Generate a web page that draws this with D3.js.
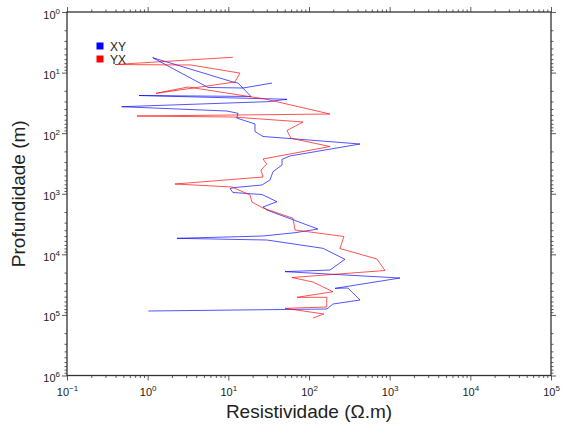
<!DOCTYPE html>
<html><head><meta charset="utf-8">
<script src="https://cdn.jsdelivr.net/npm/d3@7"></script>
<style>body{margin:0;background:#fff} text{font-family:"Liberation Sans",Arial,Helvetica,sans-serif}</style>
</head><body><svg id="c" width="561" height="435"></svg>
<script>
// XY series (resistivity Ohm.m, depth m)
const xyRes   = [34.8, 15.2, 5.60, 1.155, 11.4, 13.2, 19.1, 0.781, 53.4, 31.0, 0.477, 9.63, 13.2, 12.7, 21.4, 21.4, 26.9, 53.4, 429, 58.1, 46.3, 46.3, 35.8, 32.8, 26.1, 12.1, 10.5, 11.4, 26.1, 40.1, 26.9, 30.1, 59.8, 129, 67.1, 26.9, 2.31, 30.1, 149, 279, 182, 50.4, 1342, 210, 304, 429, 198, 167, 1.02];
const xyDepth = [14.9, 17.97, 17.6, 5.68, 14.3, 14.9, 24.8, 23.9, 27.6, 30.2, 36.6, 43.1, 47.0, 56.2, 70.6, 93.9, 113.5, 121.6, 151, 238, 270, 335, 433, 593, 717, 789, 819, 954, 1029, 1353, 1655, 1855, 2612, 3819, 4396, 4984, 5440, 5802, 7955, 12085, 18150, 19300, 24600, 36440, 35960, 56760, 66080, 79900, 86200];
// YX series
const yxRes   = [11.4, 0.394, 3.44, 13.9, 12.1, 1.27, 3.16, 28.5, 182, 0.737, 11.4, 84.2, 53.4, 59.8, 182, 26.9, 29.9, 25.4, 26.9, 2.18, 11.1, 18.6, 19.6, 26.9, 63.3, 67.1, 271, 242, 696, 875, 61.5, 112, 198, 71.0, 166, 166, 50.4, 153, 112];
const yxDepth = [5.59, 7.36, 7.50, 10.2, 14.3, 22.0, 17.3, 27.3, 48.3, 52.1, 54.1, 65.4, 90.4, 121.6, 166, 267, 323, 406, 529, 691, 774, 1049, 1369, 1719, 2543, 3967, 5079, 8016, 11950, 18490, 24130, 28640, 41400, 51230, 51230, 74060, 77840, 96630, 112500];

const seriesNames  = ["XY", "YX"];
const seriesColors = ["#0000ff", "#ff0000"];
const xTickExps = [-1, 0, 1, 2, 3, 4, 5];
const yTickExps = [0, 1, 2, 3, 4, 5, 6];
const xTitle = "Resistividade (\u03A9.m)";
const yTitle = "Profundidade (m)";

const L = 67, R = 551, T = 12, B = 375.5;
const svg = d3.select("#c");
const x = d3.scaleLog().domain([0.1, 1e5]).range([L, R]);
const y = d3.scaleLog().domain([1, 1e6]).range([T, B]);

function minors(exps) {
  const out = [];
  for (let i = 0; i < exps.length - 1; i++)
    for (let k = 2; k <= 9; k++) out.push(k * Math.pow(10, exps[i]));
  return out;
}
const xMaj = xTickExps.map(e => Math.pow(10, e));
const yMaj = yTickExps.map(e => Math.pow(10, e));
const xMin = minors(xTickExps), yMin = minors(yTickExps);

const sup = { "-": "\u2212" };
function styleAxis(g) {
  g.select(".domain").remove();
  g.selectAll(".tick line").attr("stroke", "#333").attr("stroke-width", 0.8);
}
function addAxis(gen, tr) {
  const g = svg.append("g").attr("transform", tr).call(gen);
  styleAxis(g);
  return g;
}
// minor ticks
addAxis(d3.axisBottom(x).tickValues(xMin).tickSize(2.5).tickFormat(""), `translate(0,${B})`);
addAxis(d3.axisTop(x).tickValues(xMin).tickSize(2.5).tickFormat(""), `translate(0,${T})`);
addAxis(d3.axisLeft(y).tickValues(yMin).tickSize(2.5).tickFormat(""), `translate(${L},0)`);
addAxis(d3.axisRight(y).tickValues(yMin).tickSize(2.5).tickFormat(""), `translate(${R},0)`);
// major ticks
const gxb = addAxis(d3.axisBottom(x).tickValues(xMaj).tickSize(5).tickPadding(6).tickFormat(""), `translate(0,${B})`);
addAxis(d3.axisTop(x).tickValues(xMaj).tickSize(5).tickFormat(""), `translate(0,${T})`);
const gyl = addAxis(d3.axisLeft(y).tickValues(yMaj).tickSize(5).tickPadding(6).tickFormat(""), `translate(${L},0)`);
addAxis(d3.axisRight(y).tickValues(yMaj).tickSize(5).tickFormat(""), `translate(${R},0)`);

function powLabel(sel, exps) {
  sel.selectAll(".tick text").each(function(d, i) {
    const t = d3.select(this).text(null).attr("fill", "#222").attr("font-size", 11);
    t.append("tspan").text("10");
    t.append("tspan").attr("dy", -5).attr("font-size", 8)
      .text(String(exps[i]).replace("-", "\u2212"));
  });
}
powLabel(gxb, xTickExps);
gxb.selectAll(".tick text").attr("dy", "0.9em");
powLabel(gyl, yTickExps);
gyl.selectAll(".tick text").attr("dy", "0.55em").attr("dx", 4);

// frame
svg.append("rect").attr("x", L).attr("y", T).attr("width", R - L).attr("height", B - T)
  .attr("fill", "none").attr("stroke", "#333").attr("stroke-width", 1.3);

// lines
const line = d3.line().x(d => x(d[0])).y(d => y(d[1]));
const data = [d3.zip(xyRes, xyDepth), d3.zip(yxRes, yxDepth)];
const clip = svg.append("clipPath").attr("id", "pc").append("rect")
  .attr("x", L).attr("y", T).attr("width", R - L).attr("height", B - T);
data.forEach((pts, i) => {
  svg.append("path").attr("d", line(pts)).attr("fill", "none")
    .attr("stroke", seriesColors[i]).attr("stroke-width", 0.8).attr("stroke-opacity", 0.85)
    .attr("stroke-linejoin", "round").attr("clip-path", "url(#pc)");
});

// legend
seriesNames.forEach((n, i) => {
  svg.append("rect").attr("x", 96.5).attr("y", 42.5 + i * 13).attr("width", 7).attr("height", 7)
    .attr("fill", seriesColors[i]);
  svg.append("text").attr("x", 110).attr("y", 50.5 + i * 13).attr("font-size", 12)
    .attr("fill", "#222").text(n);
});

// titles
svg.append("text").attr("x", (L + R) / 2).attr("y", 418).attr("text-anchor", "middle")
  .attr("font-size", 19).attr("fill", "#222").text(xTitle);
svg.append("text").attr("transform", `translate(25,${(T + B) / 2}) rotate(-90)`)
  .attr("text-anchor", "middle").attr("font-size", 19).attr("fill", "#222").text(yTitle);
</script></body></html>
